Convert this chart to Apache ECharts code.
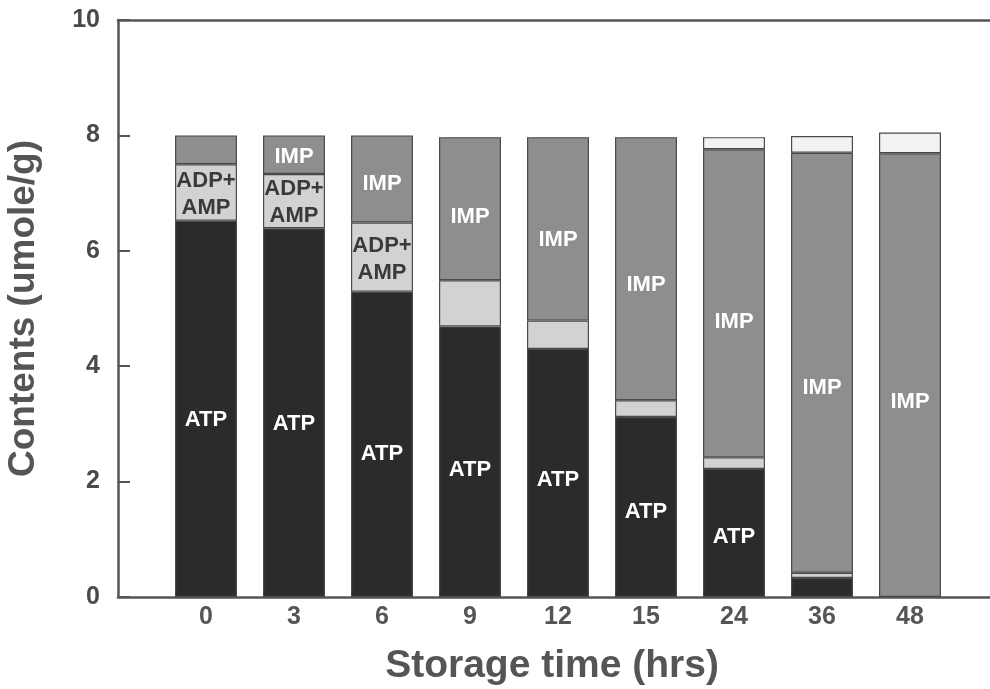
<!DOCTYPE html>
<html>
<head>
<meta charset="utf-8">
<script src="https://cdn.jsdelivr.net/npm/echarts@6/dist/echarts.min.js"></script>
<style>
  html, body { margin: 0; padding: 0; background: #fff; }
  #chart { width: 990px; height: 689px; }
</style>
</head>
<body>
<div id="chart"></div>
<script>
// Storage time categories (hours)
const hours = ['0', '3', '6', '9', '12', '15', '24', '36', '48'];

// Nucleotide contents, umole/g (stacked bottom to top)
const atp    = [6.52, 6.39, 5.29, 4.69, 4.30, 3.12, 2.22, 0.33, 0];
const adpAmp = [0.98, 0.94, 1.20, 0.80, 0.49, 0.29, 0.20, 0.09, 0];
const imp    = [0.50, 0.67, 1.51, 2.48, 3.18, 4.56, 5.34, 7.28, 7.69];
const hxr    = [0, 0, 0, 0, 0, 0, 0.21, 0.29, 0.36];

// In-bar tags
const atpTags = ['ATP', 'ATP', 'ATP', 'ATP', 'ATP', 'ATP', 'ATP', '', ''];
const adpTags = ['ADP+\nAMP', 'ADP+\nAMP', 'ADP+\nAMP', '', '', '', '', '', ''];
const impTags = ['', 'IMP', 'IMP', 'IMP', 'IMP', 'IMP', 'IMP', 'IMP', 'IMP'];

// Y axis ticks
const yMin = 0, yMax = 10, yStep = 2;

const FONT = '"Liberation Sans", Arial, sans-serif';
const AXIS_COLOR = '#555';

// The time axis is padded with an empty slot on each side so the
// frame runs past the first and last bars.
const axisCats = [''].concat(hours, ['']);

function buildData(values, tags) {
  const items = values.map((v, i) => ({
    value: v > 0 ? v : '-',
    label: { show: !!(tags && tags[i]), formatter: tags ? tags[i] : '' }
  }));
  return ['-'].concat(items, ['-']);
}

function barSeries(name, values, tags, color, labelStyle) {
  return {
    name: name,
    type: 'bar',
    stack: 'total',
    barWidth: 62,
    data: buildData(values, tags),
    itemStyle: { color: color, borderColor: '#4a4a4a', borderWidth: 1.2 },
    label: Object.assign({
      fontFamily: FONT,
      fontWeight: 'bold',
      fontSize: 22,
      align: 'center',
      verticalAlign: 'middle'
    }, labelStyle),
    emphasis: { disabled: true },
    animation: false
  };
}

const chart = echarts.init(document.getElementById('chart'), null, { renderer: 'canvas' });

chart.setOption({
  backgroundColor: '#fff',
  animation: false,
  grid: { left: 118, top: 20, width: 880, height: 577, outerBoundsMode: 'none', containLabel: false },
  xAxis: [
    {
      type: 'category',
      data: axisCats,
      boundaryGap: false,
      position: 'bottom',
      name: 'Storage time (hrs)',
      nameLocation: 'middle',
      nameGap: 50,
      nameTextStyle: { fontFamily: FONT, fontWeight: 'bold', fontSize: 39, color: AXIS_COLOR, padding: [0, 12, 0, 0] },
      axisLine: { show: true, onZero: false, lineStyle: { color: AXIS_COLOR, width: 2.5 } },
      axisTick: { show: false },
      splitLine: { show: false },
      axisLabel: {
        margin: 8,
        interval: 0,
        fontFamily: FONT,
        fontWeight: 'bold',
        fontSize: 25,
        color: AXIS_COLOR
      }
    },
    {
      type: 'category',
      data: axisCats,
      boundaryGap: false,
      position: 'top',
      axisLine: { show: true, onZero: false, lineStyle: { color: AXIS_COLOR, width: 2.5 } },
      axisTick: { show: false },
      axisLabel: { show: false },
      splitLine: { show: false }
    }
  ],
  yAxis: {
    type: 'value',
    min: yMin,
    max: yMax,
    interval: yStep,
    name: 'Contents (umole/g)',
    nameLocation: 'middle',
    nameGap: 76,
    nameTextStyle: { fontFamily: FONT, fontWeight: 'bold', fontSize: 37, color: AXIS_COLOR },
    axisLine: { show: true, onZero: false, lineStyle: { color: AXIS_COLOR, width: 2.5 } },
    axisTick: { show: true, inside: true, length: 12, lineStyle: { color: AXIS_COLOR, width: 2 } },
    splitLine: { show: false },
    axisLabel: {
      margin: 18,
      fontFamily: FONT,
      fontWeight: 'bold',
      fontSize: 25,
      color: '#4a4a4a'
    }
  },
  series: [
    barSeries('ATP', atp, atpTags, '#2b2b2b', { color: '#fff', position: ['50%', '53%'] }),
    barSeries('ADP+AMP', adpAmp, adpTags, '#d2d2d2', { color: '#3a3a3a', position: ['50%', '53%'], lineHeight: 27 }),
    barSeries('IMP', imp, impTags, '#8e8e8e', { color: '#fff', position: ['50%', '56%'] }),
    barSeries('HxR', hxr, null, '#f2f2f2', {})
  ]
});
</script>
</body>
</html>
